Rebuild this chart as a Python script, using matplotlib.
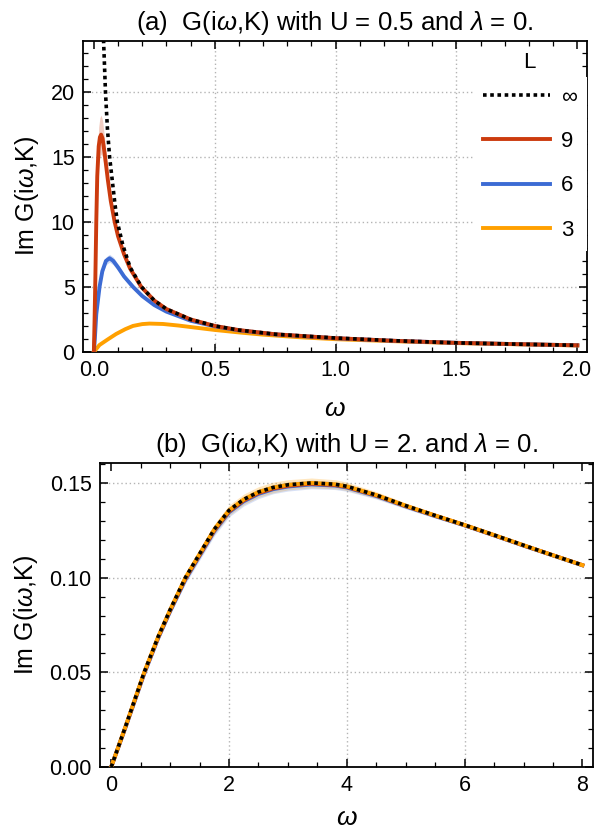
import numpy as np
import matplotlib.pyplot as plt
from matplotlib.ticker import MultipleLocator

plt.rcParams['font.family'] = 'Liberation Sans'
plt.rcParams['mathtext.fontset'] = 'custom'
plt.rcParams['mathtext.rm'] = 'Liberation Sans'
plt.rcParams['mathtext.it'] = 'Liberation Sans:italic'

# ---- panel (a): U = 0.5 ----
w_inf_a = [0.04, 0.048, 0.056, 0.065, 0.076, 0.087, 0.097, 0.12, 0.15, 0.197, 0.25, 0.3,
           0.4, 0.5, 0.6, 0.75, 1.0, 1.25, 1.5, 1.75, 2.0]
g_inf_a = [24.0, 20.0, 17.2, 15.0, 13.2, 11.4, 10.0, 8.2, 6.5, 5.0, 3.95, 3.3,
           2.5, 2.0, 1.68, 1.36, 1.07, 0.86, 0.70, 0.60, 0.51]

w_9_a = [0.0, 0.003, 0.006, 0.01, 0.014, 0.02, 0.025, 0.03, 0.036, 0.045, 0.058, 0.07,
         0.086, 0.1, 0.125, 0.15, 0.196, 0.25, 0.3, 0.4, 0.5, 0.6, 0.75, 1.0, 1.25,
         1.5, 1.75, 2.0]
g_9_a = [0.0, 2.5, 5.5, 10.0, 13.5, 15.8, 16.5, 16.7, 16.4, 15.2, 13.2, 11.6,
         10.0, 8.9, 7.5, 6.4, 5.0, 3.95, 3.3, 2.5, 2.0, 1.68, 1.36, 1.06, 0.85,
         0.70, 0.60, 0.51]
e_9_a = [0.0, 0.3, 0.6, 1.0, 1.3, 1.5, 1.5, 1.5, 1.4, 1.1, 0.7, 0.45,
         0.3, 0.2, 0.15, 0.1, 0.08, 0.06, 0.05, 0.04, 0.03, 0.03, 0.02, 0.02, 0.02,
         0.02, 0.02, 0.02]

w_6_a = [0.0, 0.004, 0.01, 0.0235, 0.035, 0.05, 0.065, 0.08, 0.1, 0.125, 0.162, 0.2,
         0.25, 0.3, 0.4, 0.5, 0.6, 0.75, 1.0, 1.25, 1.5, 1.75, 2.0]
g_6_a = [0.0, 1.0, 2.9, 5.0, 6.2, 7.0, 7.2, 7.0, 6.5, 5.8, 5.0, 4.3,
         3.6, 3.1, 2.4, 1.97, 1.66, 1.35, 1.05, 0.85, 0.70, 0.60, 0.51]
e_6_a = [0.0, 0.05, 0.1, 0.2, 0.25, 0.3, 0.3, 0.3, 0.25, 0.2, 0.15, 0.12,
         0.1, 0.08, 0.06, 0.05, 0.04, 0.03, 0.03, 0.02, 0.02, 0.02, 0.02]

w_3_a = [0.0, 0.023, 0.058, 0.092, 0.13, 0.162, 0.2, 0.23, 0.286, 0.35, 0.42, 0.5,
         0.6, 0.7, 0.85, 1.0, 1.25, 1.5, 1.75, 2.0]
g_3_a = [0.0, 0.53, 0.97, 1.38, 1.75, 2.0, 2.14, 2.18, 2.15, 2.03, 1.87, 1.69,
         1.5, 1.33, 1.13, 0.98, 0.82, 0.68, 0.59, 0.50]

# ---- panel (b): U = 2 ----
w_b = [0.0, 0.25, 0.56, 0.8, 1.0, 1.26, 1.5, 1.75, 2.0, 2.25, 2.5, 2.75, 3.0, 3.4, 3.8,
       4.0, 4.5, 5.0, 5.5, 6.0, 6.5, 7.0, 7.5, 8.0]
g_inf_b = [0.0, 0.022, 0.05, 0.069, 0.083, 0.100, 0.1125, 0.1255, 0.1355, 0.1413, 0.1452,
           0.1476, 0.1490, 0.1500, 0.1493, 0.1482, 0.1436, 0.1380, 0.1328, 0.1278,
           0.1225, 0.1171, 0.1118, 0.1066]
g_3_b = [0.0, 0.022, 0.05, 0.069, 0.083, 0.100, 0.1125, 0.1255, 0.1355, 0.1413, 0.1452,
         0.1476, 0.1490, 0.1500, 0.1493, 0.1482, 0.1436, 0.1380, 0.1328, 0.1278,
         0.1225, 0.1171, 0.1118, 0.1066]
e_3_b = [0.0, 0.0006, 0.0012, 0.0016, 0.0018, 0.0022, 0.0025, 0.0027, 0.0028, 0.0028,
         0.0028, 0.0028, 0.0027, 0.0026, 0.0024, 0.0022, 0.0018, 0.0014, 0.0012, 0.0010,
         0.0008, 0.0007, 0.0006, 0.0005]
g_6_b = [0.0, 0.0215, 0.0492, 0.0682, 0.0822, 0.0990, 0.1115, 0.1245, 0.1345, 0.1403,
         0.1442, 0.1467, 0.1481, 0.1492, 0.1486, 0.1476, 0.1431, 0.1376, 0.1325, 0.1276,
         0.1223, 0.1169, 0.1117, 0.1065]
e_6_b = [0.0, 0.0006, 0.0012, 0.0016, 0.0018, 0.0022, 0.0024, 0.0025, 0.0025, 0.0025,
         0.0025, 0.0024, 0.0024, 0.0023, 0.0021, 0.0020, 0.0016, 0.0013, 0.0011, 0.0009,
         0.0008, 0.0007, 0.0006, 0.0005]
g_9_b = [0.0, 0.0218, 0.0496, 0.0686, 0.0826, 0.0995, 0.1120, 0.1250, 0.1350, 0.1408,
         0.1447, 0.1471, 0.1485, 0.1496, 0.1489, 0.1479, 0.1434, 0.1378, 0.1327, 0.1277,
         0.1224, 0.1170, 0.1118, 0.1066]

c_inf = 'black'
c_9 = '#CC3B0E'
c_6 = '#3C6BD4'
c_3 = '#FFA000'

fig = plt.figure(figsize=(6.12, 8.34), dpi=100)
ax1 = fig.add_axes([0.1356, 0.578, 0.8235, 0.3729])
ax2 = fig.add_axes([0.1634, 0.0803, 0.8056, 0.3645])

lw = 2.8
dots = (0, (1.0, 1.0))

# panel (a)
ax1.fill_between(w_9_a, np.array(g_9_a) - np.array(e_9_a), np.array(g_9_a) + np.array(e_9_a),
                 color=c_9, alpha=0.25, lw=0, zorder=2)
ax1.fill_between(w_6_a, np.array(g_6_a) - np.array(e_6_a), np.array(g_6_a) + np.array(e_6_a),
                 color=c_6, alpha=0.25, lw=0, zorder=2)
h3, = ax1.plot(w_3_a, g_3_a, color=c_3, lw=lw, zorder=3)
h6, = ax1.plot(w_6_a, g_6_a, color=c_6, lw=lw, zorder=3)
h9, = ax1.plot(w_9_a, g_9_a, color=c_9, lw=lw, zorder=3)
hinf, = ax1.plot(w_inf_a, g_inf_a, color=c_inf, lw=2.6, linestyle=dots, zorder=4)

ax1.set_xlim(-0.045, 2.04)
ax1.set_ylim(0, 23.9)
ax1.xaxis.set_major_locator(MultipleLocator(0.5))
ax1.xaxis.set_minor_locator(MultipleLocator(0.1))
ax1.yaxis.set_major_locator(MultipleLocator(5))
ax1.yaxis.set_minor_locator(MultipleLocator(1))
ax1.set_xticks([0.0, 0.5, 1.0, 1.5, 2.0])
ax1.set_xticklabels(['0.0', '0.5', '1.0', '1.5', '2.0'])
for gx in [0.5, 1.0, 1.5]:
    ax1.axvline(gx, color='#b4b4b4', lw=1.0, linestyle=(0, (1, 2)), zorder=0)
for gy in [5, 10, 15, 20]:
    ax1.axhline(gy, color='#b4b4b4', lw=1.0, linestyle=(0, (1, 2)), zorder=0)

leg = ax1.legend([hinf, h9, h6, h3], ['\u221e', '9', '6', '3'],
                 loc='upper right', bbox_to_anchor=(1.0, 0.885), frameon=True,
                 facecolor='white', edgecolor='none', framealpha=1.0, fancybox=False,
                 fontsize=16, handlelength=3.0, handletextpad=0.5,
                 labelspacing=1.05, borderaxespad=0.0, borderpad=0.45)
leg.set_zorder(5)
ax1.text(0.885, 0.932, 'L', transform=ax1.transAxes, ha='center', va='center',
         fontsize=16, zorder=6)

ax1.set_title('(a)  G(i$\\omega$,K) with U = 0.5 and $\\lambda$ = 0.', fontsize=18.5, pad=8)
ax1.set_xlabel('$\\omega$', fontsize=19, labelpad=11)
ax1.set_ylabel('Im G(i$\\omega$,K)', fontsize=18, labelpad=7)

# panel (b)
ax2.fill_between(w_b, np.array(g_3_b) - np.array(e_3_b), np.array(g_3_b) + np.array(e_3_b),
                 color=c_3, alpha=0.25, lw=0, zorder=2)
ax2.fill_between(w_b, np.array(g_6_b) - np.array(e_6_b), np.array(g_6_b) + np.array(e_6_b),
                 color=c_6, alpha=0.2, lw=0, zorder=2)
ax2.plot(w_b, g_6_b, color=c_6, lw=lw, zorder=3)
ax2.plot(w_b, g_9_b, color=c_9, lw=lw, zorder=3)
ax2.plot(w_b, g_3_b, color=c_3, lw=lw, zorder=3)
ax2.plot(w_b, g_inf_b, color=c_inf, lw=2.6, linestyle=dots, zorder=4)

ax2.set_xlim(-0.19, 8.18)
ax2.set_ylim(0, 0.1605)
ax2.xaxis.set_major_locator(MultipleLocator(2))
ax2.xaxis.set_minor_locator(MultipleLocator(0.5))
ax2.yaxis.set_major_locator(MultipleLocator(0.05))
ax2.yaxis.set_minor_locator(MultipleLocator(0.01))
ax2.set_yticks([0.0, 0.05, 0.10, 0.15])
ax2.set_yticklabels(['0.00', '0.05', '0.10', '0.15'])
for gx in [2, 4, 6]:
    ax2.axvline(gx, color='#b4b4b4', lw=1.0, linestyle=(0, (1, 2)), zorder=0)
for gy in [0.05, 0.10, 0.15]:
    ax2.axhline(gy, color='#b4b4b4', lw=1.0, linestyle=(0, (1, 2)), zorder=0)

ax2.set_title('(b)  G(i$\\omega$,K) with U = 2. and $\\lambda$ = 0.', fontsize=18.5, pad=8)
ax2.set_xlabel('$\\omega$', fontsize=19, labelpad=7)
ax2.set_ylabel('Im G(i$\\omega$,K)', fontsize=18, labelpad=7)

for ax in (ax1, ax2):
    ax.tick_params(which='both', direction='in', top=True, right=True, labelsize=15.5,
                   color='black', pad=6)
    ax.tick_params(which='major', length=6, width=1.1)
    ax.tick_params(which='minor', length=3.5, width=0.9)
    for s in ax.spines.values():
        s.set_linewidth(1.3)

fig.savefig('out.png', dpi=100)
